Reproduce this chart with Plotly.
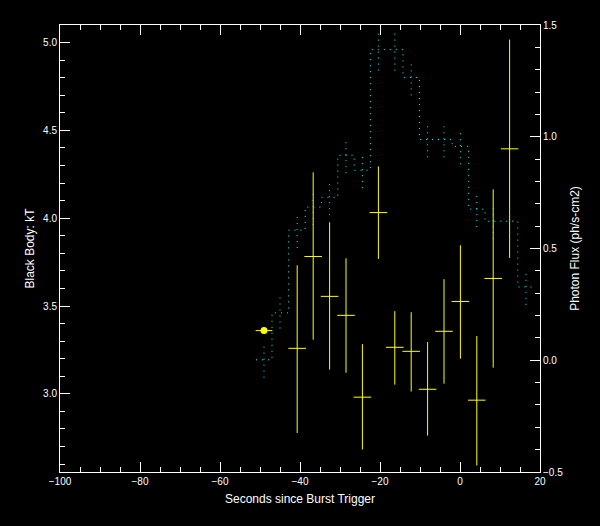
import plotly.graph_objects as go

# ---- data ----
# photon flux histogram (right axis), bins of ~4.1 s
flux_time = [-49.0, -45.0, -40.7, -36.7, -32.6, -28.5, -24.4, -20.4, -16.3,
             -12.2, -8.1, -4.0, 0.1, 4.2, 8.3, 12.4, 16.5]
flux = [0.002, 0.212, 0.582, 0.685, 0.729, 0.917, 0.850, 1.390, 1.390,
        1.265, 0.988, 0.988, 0.957, 0.676, 0.622, 0.622, 0.328]
flux_err = [0.080, 0.070, 0.080, 0.080, 0.080, 0.080, 0.080, 0.094, 0.094,
            0.080, 0.080, 0.080, 0.080, 0.080, 0.080, 0.080, 0.080]
flux_start = -51.0
flux_end = 18.6

# black body kT (left axis)
kt_time = [-40.7, -36.7, -32.6, -28.5, -24.4, -20.4, -16.3, -12.2, -8.1,
           -4.0, 0.1, 4.2, 8.3, 12.4]
kt = [3.259, 3.782, 3.555, 3.447, 2.981, 4.032, 3.265, 3.242, 3.026,
      3.356, 3.526, 2.964, 3.657, 4.395]
kt_top = [3.732, 4.261, 3.977, 3.772, 3.283, 4.295, 3.471, 3.465, 3.295,
          3.653, 3.846, 3.329, 4.164, 5.017]
kt_bottom = [2.777, 3.308, 3.138, 3.120, 2.683, 3.768, 3.052, 3.013, 2.762,
             3.058, 3.200, 2.592, 3.149, 3.774]
kt_half_width = 2.2

first_time = [-49.0]
first_kt = [3.36]
first_half_width = 2.1

x_ticks = [-100, -80, -60, -40, -20, 0, 20]

YELLOW = "#ffff00"
CYAN = "#00ffff"
DOT = "1px,5px"

fig = go.Figure()

# flux step histogram
step_x = [flux_start] + flux_time + [flux_end]
step_y = [flux[0]] + flux + [flux[-1]]
fig.add_trace(go.Scatter(x=step_x, y=step_y, mode="lines", yaxis="y2",
                         line=dict(color=CYAN, width=1, dash=DOT, shape="hvh"),
                         hoverinfo="skip", showlegend=False))
# flux error bars (dotted)
ex, ey = [], []
for t, f, e in zip(flux_time, flux, flux_err):
    ex += [t, t, None]
    ey += [f - e, f + e, None]
fig.add_trace(go.Scatter(x=ex, y=ey, mode="lines", yaxis="y2",
                         line=dict(color=CYAN, width=1, dash=DOT),
                         hoverinfo="skip", showlegend=False))

# kT points with error crosses
fig.add_trace(go.Scatter(
    x=kt_time, y=kt, mode="markers",
    marker=dict(size=1, color=YELLOW, opacity=0),
    error_y=dict(type="data", symmetric=False,
                 array=[t - k for t, k in zip(kt_top, kt)],
                 arrayminus=[k - b for k, b in zip(kt, kt_bottom)],
                 color=YELLOW, thickness=1, width=0),
    error_x=dict(type="constant", value=kt_half_width, color=YELLOW,
                 thickness=1, width=0),
    showlegend=False))

fig.add_trace(go.Scatter(
    x=first_time, y=first_kt, mode="markers",
    marker=dict(size=7, color=YELLOW, symbol="circle"),
    error_x=dict(type="constant", value=first_half_width, color=YELLOW,
                 thickness=1, width=0),
    showlegend=False))

axis_common = dict(showline=True, linecolor="white", linewidth=1,
                   ticks="inside", tickcolor="white", tickwidth=1, ticklen=10,
                   showgrid=False, zeroline=False, automargin=False,
                   tickfont=dict(color="white", size=10))

fig.update_layout(
    width=600, height=526,
    paper_bgcolor="black", plot_bgcolor="black",
    font=dict(family="Liberation Sans", color="white", size=10),
    margin=dict(l=60, r=60, t=25, b=54),
    xaxis=dict(range=[-100, 20], tickvals=x_ticks, mirror="ticks",
               minor=dict(dtick=5, tick0=0, ticks="inside", ticklen=5,
                          tickcolor="white"),
               title=dict(text="Seconds since Burst Trigger", standoff=8),
               **axis_common),
    yaxis=dict(range=[2.555, 5.1], dtick=0.5, tick0=0, tickformat=".1f",
               mirror=True,
               minor=dict(dtick=0.1, tick0=0, ticks="inside", ticklen=5,
                          tickcolor="white"),
               title=dict(text="Black Body: kT", standoff=5),
               **axis_common),
    yaxis2=dict(range=[-0.5, 1.5], dtick=0.5, tick0=0, tickformat=".1f",
                overlaying="y", side="right",
                minor=dict(dtick=0.1, tick0=0, ticks="inside", ticklen=5,
                           tickcolor="white"),
                title=dict(text="Photon Flux (ph/s-cm2)", standoff=8),
                **axis_common),
)

fig.write_html("out.html", config={"displayModeBar": False})

# remove the browser's default page margin so the figure sits at (0, 0)
with open("out.html", encoding="utf-8") as fh:
    html = fh.read()
html = html.replace("<head>", "<head><style>html,body{margin:0;padding:0;background:black;}</style>", 1)
with open("out.html", "w", encoding="utf-8") as fh:
    fh.write(html)
